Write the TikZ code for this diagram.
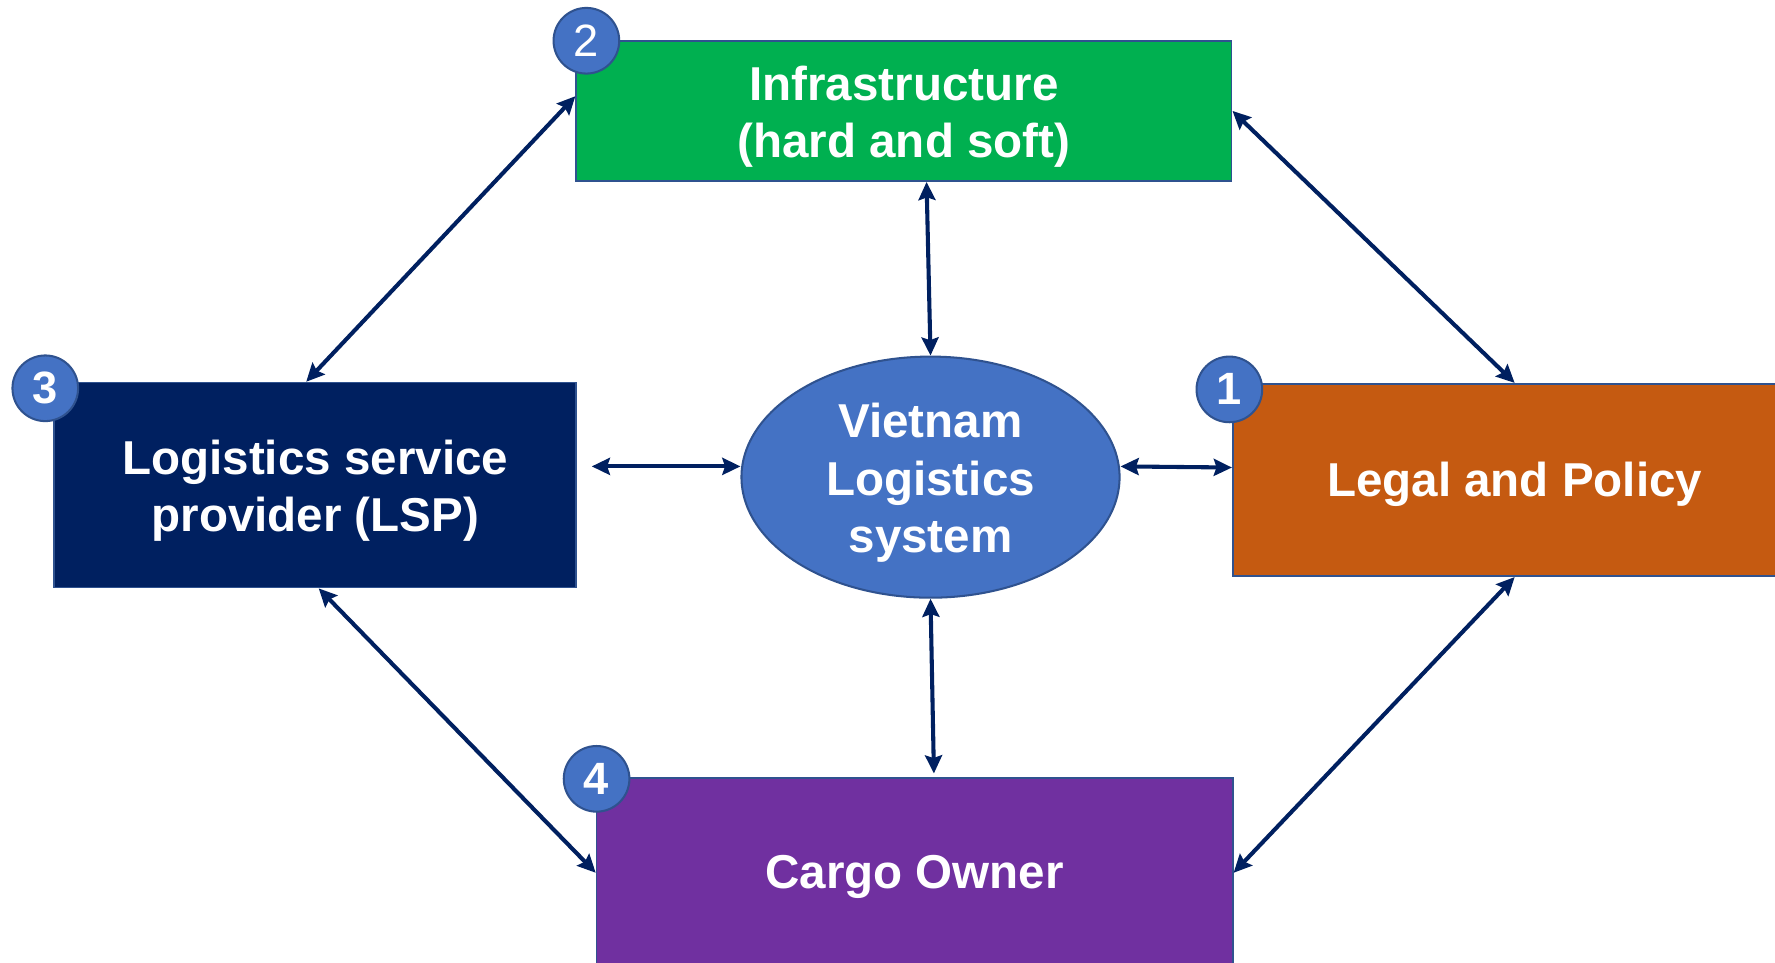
\documentclass[tikz,border=0pt]{standalone}
\usepackage{fontspec}
\setmainfont{Liberation Sans}
\usetikzlibrary{arrows.meta,shapes.geometric,calc}
\definecolor{cgreen}{HTML}{00B050}
\definecolor{cnavy}{HTML}{002060}
\definecolor{corange}{HTML}{C55A11}
\definecolor{cpurple}{HTML}{7030A0}
\definecolor{cblue}{HTML}{4472C4}
\definecolor{cedge}{HTML}{2F528F}
\definecolor{carrow}{HTML}{002060}
\tikzset{
  box/.style={rectangle, draw=cedge, line width=0.75pt, inner sep=0pt},
  lbl/.style={text=white, align=center, inner sep=0pt,
    font=\fontsize{21}{25.5}\selectfont\bfseries},
  badge/.style={circle, fill=cblue, draw=cedge, line width=0.9pt, minimum size=29pt,
    inner sep=0pt, text=white, font=\fontsize{20}{20}\selectfont\bfseries},
  link/.style={draw=carrow, line width=1.8pt,
    {Stealth[length=8pt,width=7.5pt,inset=1.2pt]}-{Stealth[length=8pt,width=7.5pt,inset=1.2pt]}}
}
\begin{document}
\begin{tikzpicture}[x=0.5pt,y=-0.5pt]
\useasboundingbox (0,0) rectangle (1568,850);
\clip (0,0) rectangle (1568,850);
\fill[white] (0,0) rectangle (1568,850);
% boxes
\node[box, fill=cgreen, minimum width=289.5pt, minimum height=62pt] (infra) at (798.5,98) {};
\node[box, fill=cnavy, minimum width=230.5pt, minimum height=90.5pt] (lsp) at (278.5,428.5) {};
\node[box, fill=corange, minimum width=249pt, minimum height=85pt] (legal) at (1338,424) {};
\node[box, fill=cpurple, minimum width=281pt, minimum height=84pt] (cargo) at (808,771) {};
\node[ellipse, fill=cblue, draw=cedge, line width=0.9pt, minimum width=167pt, minimum height=106.5pt,
  inner sep=0pt] (vls) at (822,421.5) {};
% labels
\node[lbl] (tinfra) at ([yshift=-2.5pt]infra.center) {Infrastructure\\(hard and soft)};
\node[lbl] (tlsp) at ([yshift=-2.5pt]lsp.center) {Logistics service\\provider (LSP)};
\node[lbl] (tlegal) at ([yshift=-2pt]legal.center) {Legal and Policy};
\node[lbl] (tcargo) at ([yshift=-2pt]cargo.center) {Cargo Owner};
\node[lbl] (tvls) at ([yshift=-2.5pt]vls.center) {Vietnam\\Logistics\\system};
% badges
\node[badge, font=\fontsize{20}{20}\selectfont] (b2) at (518,36) {2};
\node[badge] (b3) at (40,343) {3};
\node[badge] (b1) at (1086,344) {1};
\node[badge] (b4) at (527,688) {4};
% connectors
\draw[link] ([xshift=-4pt]lsp.north) -- ([yshift=6.5pt]infra.west);
\draw[link] (infra.east) -- (legal.north);
\draw[link] ([xshift=10pt]infra.south) -- (vls.north);
\draw[link] ([xshift=6.5pt,yshift=8.25pt]lsp.east) -- ([yshift=4.75pt]vls.west);
\draw[link] ([yshift=4.75pt]vls.east) -- ([yshift=5.5pt]legal.west);
\draw[link] (vls.south) -- ([xshift=8.5pt,yshift=1.5pt]cargo.north);
\draw[link] ([xshift=1.5pt]lsp.south) -- (cargo.west);
\draw[link] (legal.south) -- (cargo.east);
\end{tikzpicture}
\end{document}
